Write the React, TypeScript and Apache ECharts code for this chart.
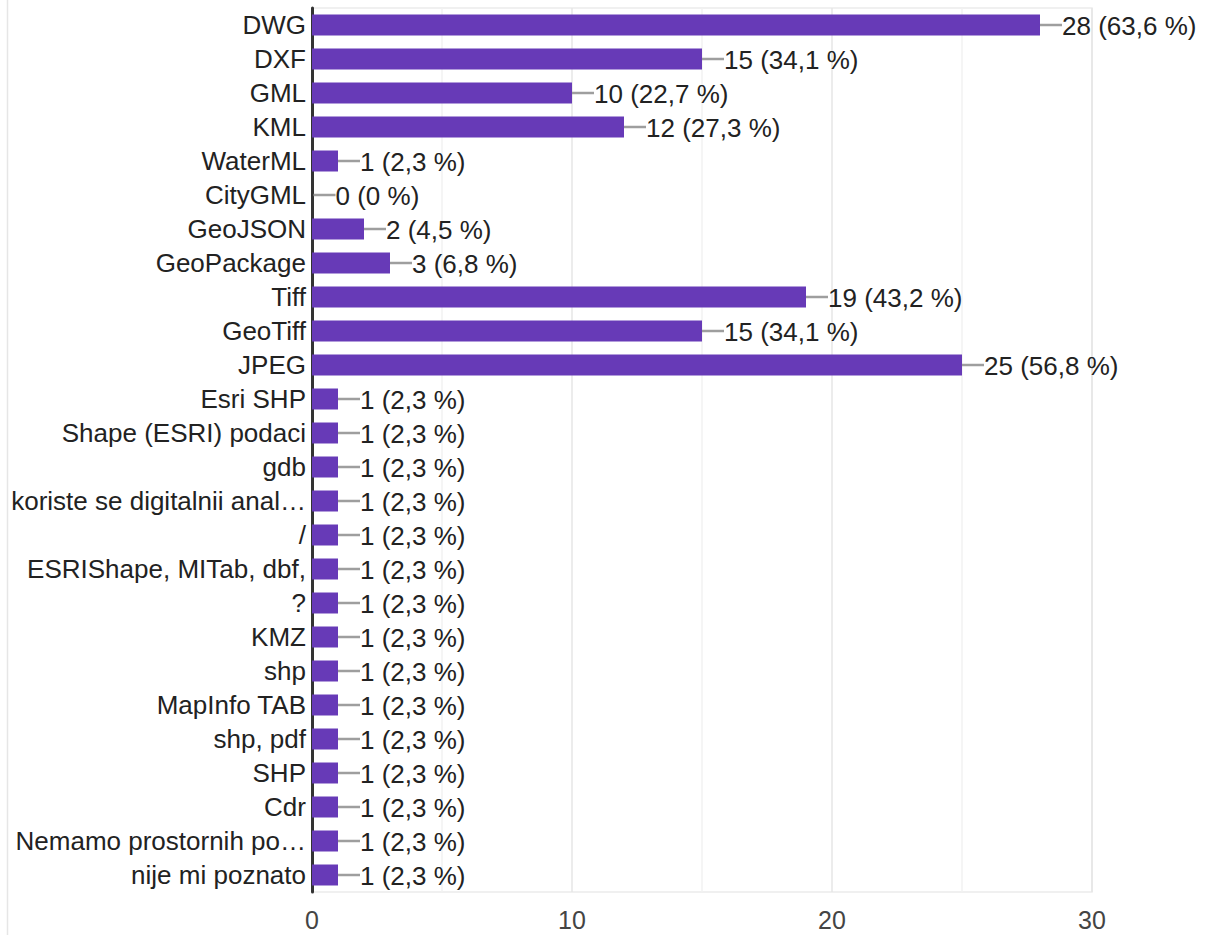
import React, { useEffect, useRef } from "react";
import * as echarts from "echarts";

const categories = [
  "DWG", "DXF", "GML", "KML", "WaterML", "CityGML", "GeoJSON", "GeoPackage",
  "Tiff", "GeoTiff", "JPEG", "Esri SHP", "Shape (ESRI) podaci", "gdb",
  "koriste se digitalnii anal…", "/", "ESRIShape, MITab, dbf,", "?", "KMZ",
  "shp", "MapInfo TAB", "shp, pdf", "SHP", "Cdr", "Nemamo prostornih po…",
  "nije mi poznato",
];
const values = [28, 15, 10, 12, 1, 0, 2, 3, 19, 15, 25, 1, 1, 1, 1, 1, 1, 1, 1, 1, 1, 1, 1, 1, 1, 1];
const percentLabels = [
  "63,6 %", "34,1 %", "22,7 %", "27,3 %", "2,3 %", "0 %", "4,5 %", "6,8 %",
  "43,2 %", "34,1 %", "56,8 %", "2,3 %", "2,3 %", "2,3 %", "2,3 %", "2,3 %",
  "2,3 %", "2,3 %", "2,3 %", "2,3 %", "2,3 %", "2,3 %", "2,3 %", "2,3 %",
  "2,3 %", "2,3 %",
];
const xTicks = { min: 0, max: 30, interval: 10 };

const FONT = "'Liberation Sans', Arial, sans-serif";
const FS = 26;

export default function App() {
  const ref = useRef<HTMLDivElement>(null);
  useEffect(() => {
    if (!ref.current) return;
    const chart = echarts.init(ref.current, null, { renderer: "svg" });
    chart.setOption({
      animation: false,
      textStyle: { fontFamily: FONT },
      graphic: [
        {
          type: "line",
          shape: { x1: 7.5, y1: 0, x2: 7.5, y2: 935 },
          style: { stroke: "#e6e6e6", lineWidth: 1.5 },
          silent: true,
        },
      ],
      grid: {
        left: 312,
        right: 113,
        top: 8,
        bottom: 43,
        show: true,
        borderColor: "#ebebeb",
        borderWidth: 1.5,
      },
      xAxis: {
        type: "value",
        min: xTicks.min,
        max: xTicks.max,
        interval: xTicks.interval,
        axisLine: { show: false },
        axisTick: { show: false },
        axisLabel: { fontSize: 25, color: "#444", margin: 15, fontFamily: FONT },
        splitLine: { show: true, lineStyle: { color: "#e6e6e6", width: 1.5 } },
        minorTick: { show: false, splitNumber: 2 },
        minorSplitLine: { show: true, lineStyle: { color: "#f2f2f2", width: 1.5 } },
      },
      yAxis: {
        type: "category",
        data: categories,
        inverse: true,
        axisLine: { show: true, lineStyle: { color: "#333", width: 3 } },
        axisTick: { show: false },
        axisLabel: { fontSize: FS, color: "#222", margin: 6, fontFamily: FONT },
        splitLine: { show: false },
      },
      series: [
        {
          type: "bar",
          data: values,
          barWidth: 21,
          itemStyle: { color: "#673ab7" },
          z: 2,
        },
        {
          type: "custom",
          data: values.map((v, i) => [v, i]),
          encode: { x: 0, y: 1 },
          z: 3,
          renderItem: (params: any, api: any) => {
            const v = api.value(0);
            const i = api.value(1);
            const p = api.coord([v, i]);
            const x = p[0] + (v === 0 ? 1.5 : 0);
            const y = p[1];
            return {
              type: "group",
              children: [
                {
                  type: "line",
                  shape: { x1: x, y1: y, x2: x + 22, y2: y },
                  style: { stroke: "#9e9e9e", lineWidth: 2.5 },
                },
                {
                  type: "text",
                  x: x + 22,
                  y: y + 1,
                  style: {
                    text: `${v} (${percentLabels[i]})`,
                    fill: "#222",
                    fontSize: FS,
                    fontFamily: FONT,
                    verticalAlign: "middle",
                    align: "left",
                  },
                },
              ],
            };
          },
        },
      ],
    });
    return () => chart.dispose();
  }, []);
  return <div ref={ref} style={{ width: 1205, height: 935, position: "absolute", left: 0, top: 0 }} />;
}
